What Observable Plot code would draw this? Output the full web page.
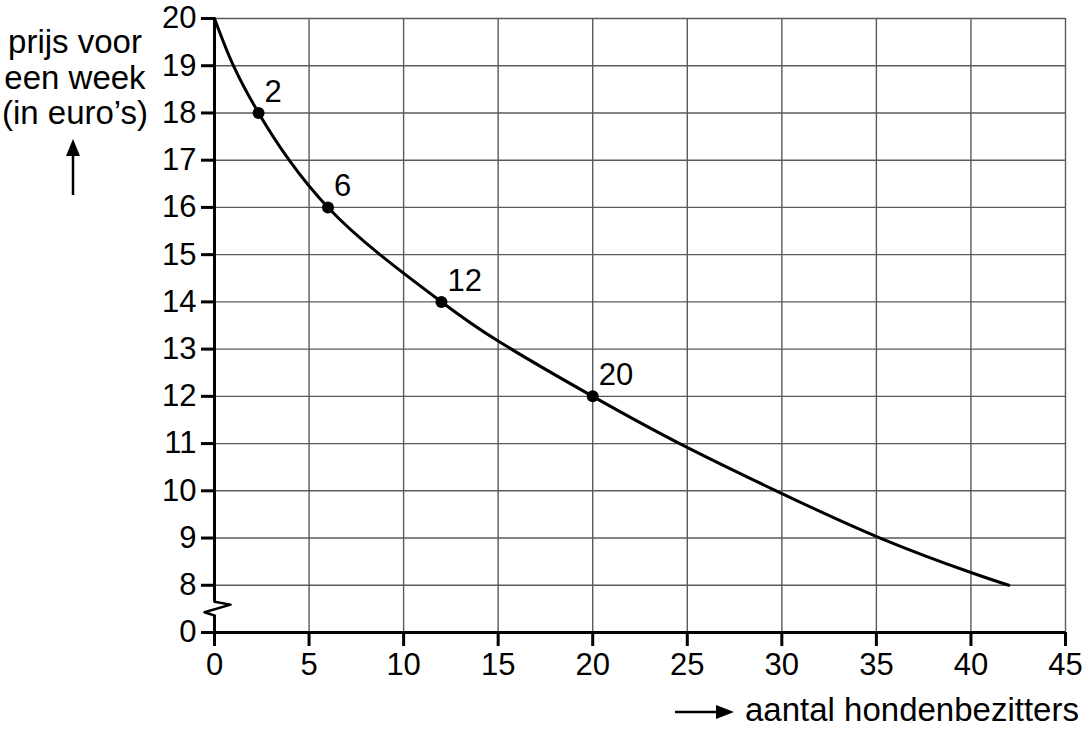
<!DOCTYPE html>
<html>
<head>
<meta charset="utf-8">
<script src="https://cdn.jsdelivr.net/npm/d3@7"></script>
<script src="https://cdn.jsdelivr.net/npm/@observablehq/plot@0.6"></script>
<style>
  html, body { margin: 0; padding: 0; background: #fff; }
  #chart { width: 1085px; height: 732px; }
</style>
</head>
<body>
<div id="chart"></div>
<script>
// ---- data ----
const xTicks = [0, 5, 10, 15, 20, 25, 30, 35, 40, 45];
const yTicks = [0, 8, 9, 10, 11, 12, 13, 14, 15, 16, 17, 18, 19, 20];
const curveX = [0, 1, 2.33, 3.95, 6, 8.75, 12, 15, 20, 24.6, 29.7, 35.2, 40, 42];
const curveY = [20, 19, 18, 17, 16, 15, 14, 13.17, 12, 11, 10, 9, 8.27, 8];
const pointX = [2.33, 6, 12, 20];
const pointY = [18, 16, 14, 12];
const pointLabels = ["2", "6", "12", "20"];
const yTitle = "prijs voor\neen week\n(in euro’s)";
const xTitle = "aantal hondenbezitters";

// axis break: value 0 is drawn one unit below 8
const yPos = v => (v === 0 ? 7 : v);
const breakTop = 7.65, breakBottom = 7.36;
const breakShape = [
  {x: 0, y: 7.65}, {x: 0.85, y: 7.59}, {x: -0.53, y: 7.43}, {x: 0, y: 7.36}
];

const curve = curveX.map((x, i) => ({x, y: curveY[i]}));
const points = pointX.map((x, i) => ({x, y: pointY[i], label: pointLabels[i]}));

const font = "Liberation Sans, Arial, Helvetica, sans-serif";

function decorations(index, scales, values, dims) {
  const svg = d3.create("svg:g");
  // y title
  const t = svg.append("text")
    .attr("font-family", font).attr("font-size", 33)
    .attr("text-anchor", "middle").attr("fill", "#000");
  yTitle.split("\n").forEach((line, i) => {
    t.append("tspan").attr("x", 75).attr("y", 53 + i * 35.5).text(line);
  });
  // up arrow
  svg.append("line").attr("x1", 73).attr("x2", 73).attr("y1", 195).attr("y2", 150)
    .attr("stroke", "#000").attr("stroke-width", 2.5);
  svg.append("path").attr("d", "M73,139 L66,156 L80,156 Z").attr("fill", "#000");
  // x title
  svg.append("text").attr("font-family", font).attr("font-size", 33)
    .attr("text-anchor", "start")
    .attr("x", 745).attr("y", 721).attr("fill", "#000").text(xTitle);
  svg.append("line").attr("x1", 675).attr("x2", 722).attr("y1", 712).attr("y2", 712)
    .attr("stroke", "#000").attr("stroke-width", 2.5);
  svg.append("path").attr("d", "M734,712 L716,705 L716,719 Z").attr("fill", "#000");
  return svg.node();
}

const chart = Plot.plot({
  width: 1085,
  height: 732,
  marginLeft: 214,
  marginRight: 20,
  marginTop: 18,
  marginBottom: 100,
  style: {fontFamily: font, background: "#fff", color: "#000"},
  x: {domain: [0, 45]},
  y: {domain: [7, 20]},
  marks: [
    // grid
    Plot.ruleY(yTicks.filter(v => v >= 8), {x1: 0, x2: 45, stroke: "#5a5a5a", strokeWidth: 1.4}),
    Plot.ruleX(xTicks.filter(v => v > 0), {y1: 7, y2: 20, stroke: "#5a5a5a", strokeWidth: 1.4}),
    // axes lines
    Plot.ruleY([7], {x1: 0, x2: 45, stroke: "#000", strokeWidth: 3}),
    Plot.ruleX([0], {y1: breakTop, y2: 20, stroke: "#000", strokeWidth: 3}),
    Plot.ruleX([0], {y1: 7, y2: breakBottom, stroke: "#000", strokeWidth: 3}),
    Plot.line(breakShape, {x: "x", y: "y", stroke: "#000", strokeWidth: 2.5, curve: "linear", clip: false}),
    Plot.axisX({ticks: xTicks, tickSize: 14, tickPadding: 6, fontSize: 31, strokeWidth: 3, label: null, tickFormat: d => String(d)}),
    Plot.axisY({ticks: yTicks.map(yPos), tickSize: 13, tickPadding: 5, fontSize: 31, strokeWidth: 3, label: null,
      tickFormat: d => (d === 7 ? "0" : String(d))}),
    // data
    Plot.line(curve, {x: "x", y: "y", curve: "natural", stroke: "#000", strokeWidth: 3}),
    Plot.dot(points, {x: "x", y: "y", r: 6, fill: "#000"}),
    Plot.text(points, {x: "x", y: "y", text: "label", textAnchor: "start", dx: 6, dy: -21, fontSize: 31, fill: "#000"}),
    decorations
  ]
});
document.getElementById("chart").appendChild(chart);
</script>
</body>
</html>
